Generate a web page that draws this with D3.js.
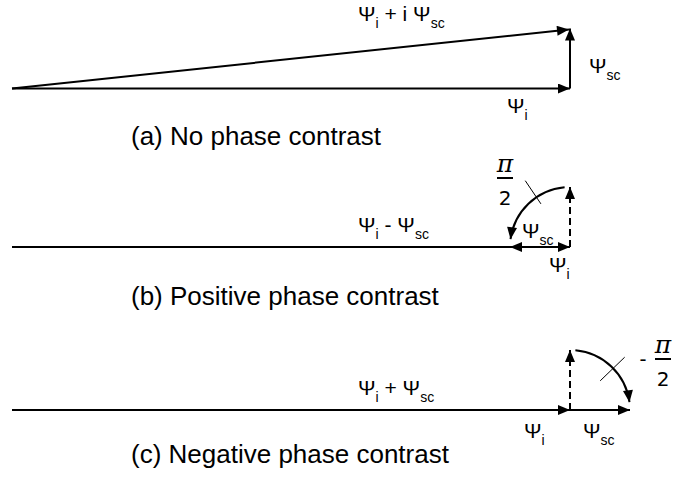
<!DOCTYPE html>
<html>
<head>
<meta charset="utf-8">
<script src="https://cdn.jsdelivr.net/npm/d3@7"></script>
<style>
  body { margin: 0; background: #fff; }
  svg text { font-family: "Liberation Sans", Arial, sans-serif; fill: #000; }
</style>
</head>
<body>
<div id="chart"></div>
<script>
// phasor lengths (in units of the scattered wave)
const psiI = 9.3;
const psiSc = 1;
const captions = ['(a) No phase contrast', '(b) Positive phase contrast', '(c) Negative phase contrast'];
// direction of scattered wave after the phase plate, degrees (90 = i*Psi_sc)
const scPhase = [90, 180, 0];
const shiftSign = ['', '', '-'];

const width = 673, height = 477;
const baselines = [88.5, 247, 410];
const captionY = [145, 305, 463];
const unit = 60;

var svg = d3.select('#chart').append('svg')
    .attr('width', width)
    .attr('height', height);

var defs = svg.append('defs');
defs.append('marker')
    .attr('id', 'head')
    .attr('viewBox', '0 0 12 10')
    .attr('refX', 12).attr('refY', 5)
    .attr('markerWidth', 13).attr('markerHeight', 10)
    .attr('markerUnits', 'userSpaceOnUse')
    .attr('orient', 'auto')
  .append('path')
    .attr('d', 'M0,0 L12,5 L0,10 Z')
    .attr('fill', '#000');

var x = d3.scaleLinear().domain([0, psiI + psiSc]).range([12, 12 + (psiI + psiSc) * unit]);

function psiText(g, px, py, parts) {
  // parts: list of [main, sub]
  var t = g.append('text').attr('x', px).attr('y', py).style('font-size', '21px');
  var shifted = false;
  parts.forEach(function(p) {
    t.append('tspan').text(p[0]).attr('dy', shifted ? -7 : 0).style('font-size', '21px');
    shifted = false;
    if (p[1]) {
      t.append('tspan').text(p[1]).attr('dy', 7).style('font-size', '14px');
      shifted = true;
    }
  });
  return t;
}

function arrow(g, x1, y1, x2, y2, dashed) {
  var l = g.append('line')
      .attr('x1', x1).attr('y1', y1).attr('x2', x2).attr('y2', y2)
      .attr('stroke', '#000').attr('stroke-width', 2)
      .attr('marker-end', 'url(#head)');
  if (dashed) l.attr('stroke-dasharray', '7,4');
  return l;
}

captions.forEach(function(cap, k) {
  var g = svg.append('g');
  var y = d3.scaleLinear().domain([0, 1]).range([baselines[k], baselines[k] - unit]);
  var phase = scPhase[k] * Math.PI / 180;
  var ox = x(psiI), oy = y(0);
  var sx = x(psiI + psiSc * Math.cos(phase)), sy = y(psiSc * Math.sin(phase));

  // incident wave
  arrow(g, x(0), y(0), ox, oy);

  if (scPhase[k] === 90) {
    arrow(g, ox, oy, sx, sy);
    arrow(g, x(0), y(0), sx - 1, sy + 1);
    psiText(g, 358, 21, [['\u03a8', 'i'], [' + i \u03a8', 'sc']]);
    psiText(g, 589, 73, [['\u03a8', 'sc']]);
    psiText(g, 507, 113, [['\u03a8', 'i']]);
  } else {
    // original scattered wave, dashed
    arrow(g, ox, oy, x(psiI), y(psiSc), true);
    arrow(g, ox, oy, sx, sy);
    var r = unit * psiSc;
    var path = d3.path();
    var a0, a1, ccw;
    if (scPhase[k] === 180) { a0 = -Math.PI / 2 - 0.09; a1 = -Math.PI + 0.13; ccw = true; }
    else { a0 = -Math.PI / 2 + 0.09; a1 = -0.13; ccw = false; }
    path.moveTo(ox + r * Math.cos(a0), oy + r * Math.sin(a0));
    path.arc(ox, oy, r, a0, a1, ccw);
    g.append('path').attr('d', path.toString())
        .attr('fill', 'none').attr('stroke', '#000').attr('stroke-width', 2)
        .attr('marker-end', 'url(#head)');

    // leader from the phase label to the arc
    var la = scPhase[k] === 180 ? -124 * Math.PI / 180 : -44 * Math.PI / 180;
    var rin = scPhase[k] === 180 ? 52 : 42, rout = scPhase[k] === 180 ? 80 : 76;
    g.append('line')
        .attr('x1', ox + rin * Math.cos(la)).attr('y1', oy + rin * Math.sin(la))
        .attr('x2', ox + rout * Math.cos(la)).attr('y2', oy + rout * Math.sin(la))
        .attr('stroke', '#000').attr('stroke-width', 1);

    // phase shift fraction
    var fx = scPhase[k] === 180 ? 505 : 663;
    var fy = scPhase[k] === 180 ? 178 : 359;
    g.append('text').attr('x', fx).attr('y', fy - 6).attr('text-anchor', 'middle')
        .style('font-family', '"DejaVu Serif", serif').style('font-style', 'italic')
        .style('font-size', '25px').text('\u03c0');
    g.append('line').attr('x1', fx - 8).attr('x2', fx + 8).attr('y1', fy).attr('y2', fy)
        .attr('stroke', '#000').attr('stroke-width', 2);
    g.append('text').attr('x', fx).attr('y', fy + 27).attr('text-anchor', 'middle')
        .style('font-family', '"DejaVu Sans", sans-serif').style('font-size', '20px').text('2');
    if (shiftSign[k]) {
      g.append('text').attr('x', 643).attr('y', fy + 7).attr('text-anchor', 'middle')
          .style('font-size', '21px').text(shiftSign[k]);
    }

    if (scPhase[k] === 180) {
      psiText(g, 358, 232, [['\u03a8', 'i'], [' - \u03a8', 'sc']]);
      psiText(g, 522, 238, [['\u03a8', 'sc']]);
      psiText(g, 549, 272, [['\u03a8', 'i']]);
    } else {
      psiText(g, 358, 395, [['\u03a8', 'i'], [' + \u03a8', 'sc']]);
      psiText(g, 524, 438, [['\u03a8', 'i']]);
      psiText(g, 583, 438, [['\u03a8', 'sc']]);
    }
  }

  g.append('text')
      .attr('x', 131)
      .attr('y', captionY[k])
      .style('font-size', '26px')
      .text(cap);
});
</script>
</body>
</html>
